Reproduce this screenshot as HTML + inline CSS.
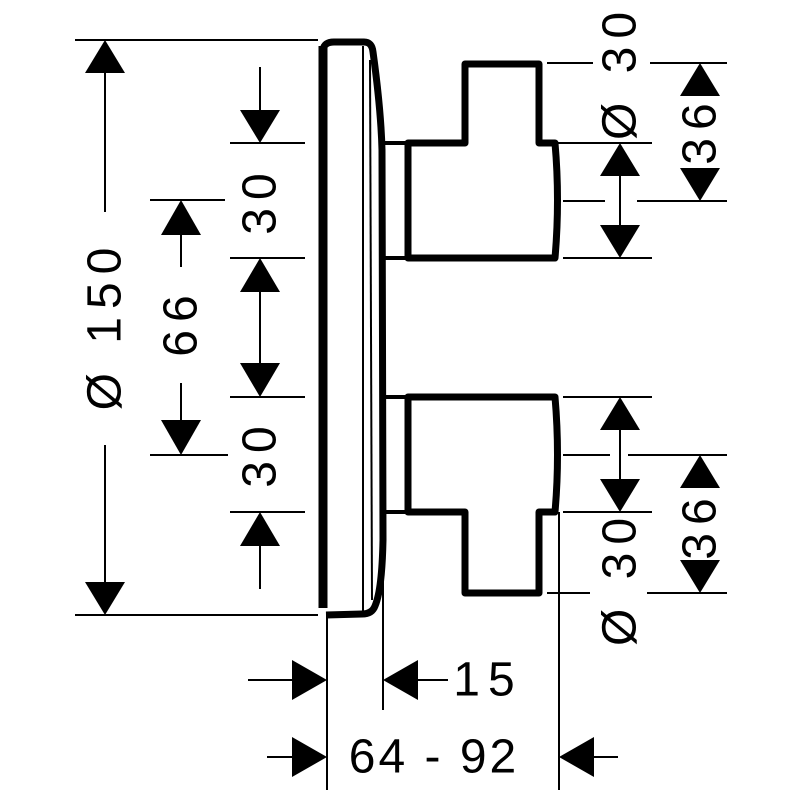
<!DOCTYPE html>
<html><head><style>html,body{margin:0;padding:0;background:#fff}svg{display:block}</style></head>
<body>
<svg width="800" height="800" viewBox="0 0 800 800" xmlns="http://www.w3.org/2000/svg">
<g stroke="#000" fill="none" stroke-width="2">
<line x1="75" y1="40" x2="318" y2="40"/>
<line x1="75" y1="615" x2="318" y2="615"/>
<line x1="230" y1="143" x2="305" y2="143"/>
<line x1="230" y1="258" x2="305" y2="258"/>
<line x1="230" y1="397" x2="305" y2="397"/>
<line x1="230" y1="512" x2="305" y2="512"/>
<line x1="150" y1="200" x2="225" y2="200"/>
<line x1="150" y1="455" x2="228" y2="455"/>
<line x1="105" y1="60" x2="105" y2="212"/>
<line x1="105" y1="445" x2="105" y2="595"/>
<line x1="260" y1="67" x2="260" y2="115"/>
<line x1="260" y1="285" x2="260" y2="370"/>
<line x1="260" y1="540" x2="260" y2="589"/>
<line x1="181" y1="225" x2="181" y2="267"/>
<line x1="181" y1="383" x2="181" y2="425"/>
<line x1="547" y1="63" x2="593" y2="63"/>
<line x1="650" y1="63" x2="727" y2="63"/>
<line x1="558" y1="143" x2="652" y2="143"/>
<line x1="563" y1="201" x2="605" y2="201"/>
<line x1="637" y1="201" x2="727" y2="201"/>
<line x1="563" y1="258" x2="652" y2="258"/>
<line x1="563" y1="397" x2="652" y2="397"/>
<line x1="563" y1="455" x2="610" y2="455"/>
<line x1="628" y1="455" x2="727" y2="455"/>
<line x1="563" y1="512" x2="652" y2="512"/>
<line x1="547" y1="593" x2="590" y2="593"/>
<line x1="647" y1="593" x2="727" y2="593"/>
<line x1="620" y1="170" x2="620" y2="230"/>
<line x1="620" y1="425" x2="620" y2="485"/>
<line x1="327" y1="615" x2="327" y2="790"/>
<line x1="383" y1="555" x2="383" y2="710"/>
<line x1="559" y1="512" x2="559" y2="790"/>
<line x1="248" y1="680" x2="295" y2="680"/>
<line x1="410" y1="680" x2="448" y2="680"/>
<line x1="267" y1="757" x2="295" y2="757"/>
<line x1="590" y1="757" x2="618" y2="757"/>
<line x1="363" y1="46" x2="363" y2="612"/>
<line x1="370" y1="60" x2="372" y2="600"/>
</g>
<g fill="#000">
<polygon points="105,40 85,73 125,73"/>
<polygon points="105,615 85,582 125,582"/>
<polygon points="260,143 240,110 280,110"/>
<polygon points="260,258 240,292 280,292"/>
<polygon points="260,397 240,363 280,363"/>
<polygon points="260,512 240,546 280,546"/>
<polygon points="181,200 161,235 201,235"/>
<polygon points="181,455 161,420 201,420"/>
<polygon points="620,143 600,176 640,176"/>
<polygon points="620,258 600,225 640,225"/>
<polygon points="620,397 600,430 640,430"/>
<polygon points="620,512 600,479 640,479"/>
<polygon points="700,63 680,96 720,96"/>
<polygon points="700,201 680,168 720,168"/>
<polygon points="700,455 680,488 720,488"/>
<polygon points="700,593 680,560 720,560"/>
<polygon points="327,680 292,660 292,700"/>
<polygon points="383,680 418,660 418,700"/>
<polygon points="327,757 292,737 292,777"/>
<polygon points="559,757 594,737 594,777"/>
</g>
<g stroke="#000" fill="none" stroke-width="7" stroke-linejoin="round">
<line x1="323" y1="46" x2="323" y2="608" stroke-width="9"/>
<path d="M323,50 Q324,42 334,42 L364,42 Q372,42 373,52 Q381,110 382,150 L383,540 Q382,590 375,606 Q372,614 362,614 L326,615"/>
<path d="M465,143 L465,64 L539,64 L539,143 L555,143 Q560,200 555,258 L408,258 L408,143 Z"/>
<path d="M408,397 L555,397 Q560,455 555,512 L539,512 L539,593 L465,593 L465,512 L408,512 Z"/>
</g>
<g stroke="#000" stroke-width="4">
<line x1="383" y1="143" x2="408" y2="143"/>
<line x1="383" y1="258" x2="408" y2="258"/>
<line x1="383" y1="397" x2="408" y2="397"/>
<line x1="383" y1="512" x2="408" y2="512"/>
</g>
<g font-family="Liberation Sans, sans-serif" font-size="48" fill="#000" text-anchor="middle" dominant-baseline="central" letter-spacing="8">
<text transform="translate(105,325) rotate(-90)">Ø 150</text>
<text transform="translate(181,322) rotate(-90)">66</text>
<text transform="translate(260,200) rotate(-90)">30</text>
<text transform="translate(260,453) rotate(-90)">30</text>
<text transform="translate(620,72) rotate(-90)">Ø 30</text>
<text transform="translate(700,130) rotate(-90)">36</text>
<text transform="translate(620,578) rotate(-90)">Ø 30</text>
<text transform="translate(700,525) rotate(-90)">36</text>
<text x="488" y="680">15</text>
<text x="434" y="757" letter-spacing="3">64 - 92</text>
</g>
</svg>
</body></html>
